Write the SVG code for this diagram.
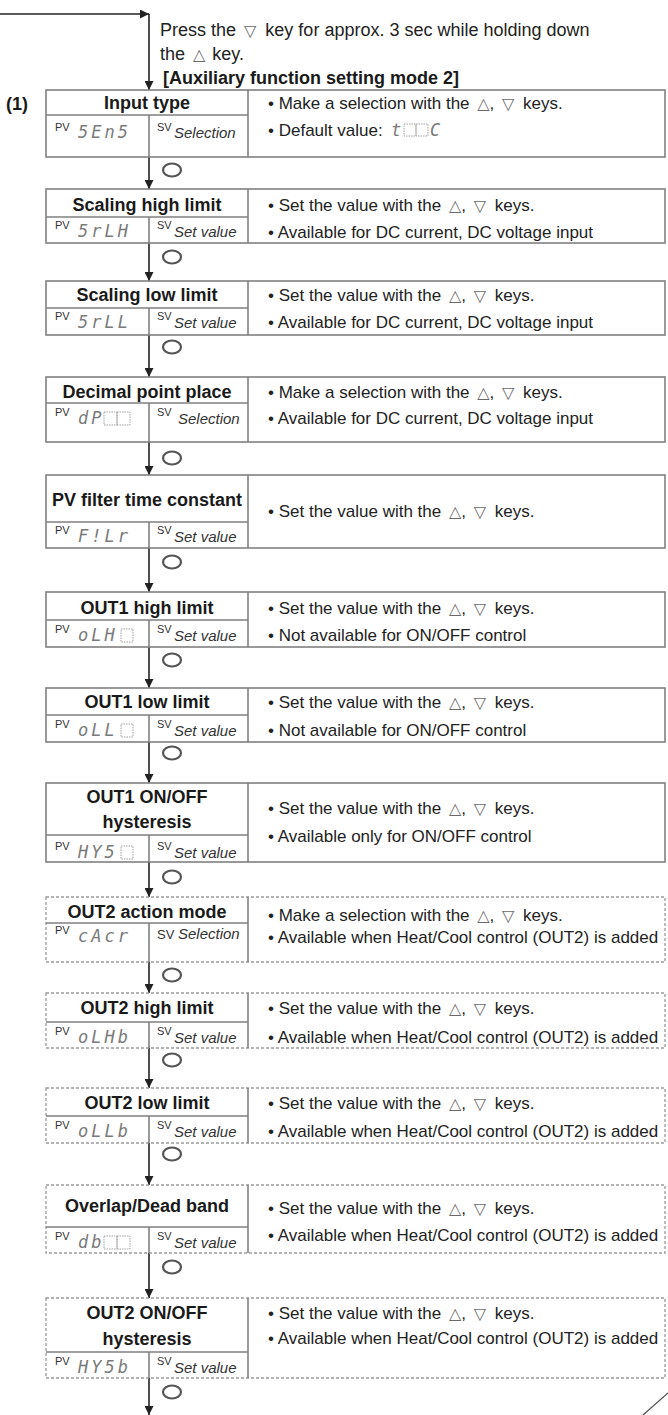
<svg xmlns="http://www.w3.org/2000/svg" width="668" height="1415" viewBox="0 0 668 1415">
<defs>
<marker id="ah" viewBox="0 0 10 10" refX="10" refY="5" markerWidth="9" markerHeight="9" markerUnits="userSpaceOnUse" orient="auto"><path d="M0,0 L10,5 L0,10 z" fill="#222"/></marker>
</defs>
<style>
.box{fill:#fff;stroke:#808080;stroke-width:1.6}
.dbox{fill:#fff;stroke:#9a9a9a;stroke-width:1.3;stroke-dasharray:3 2}
.ln{stroke:#808080;stroke-width:1.6;fill:none}
.hdr{font-family:"Liberation Sans",Arial,sans-serif;font-weight:bold;font-size:18px;fill:#1a1a1a;text-anchor:middle}
.t{font-family:"Liberation Sans",Arial,sans-serif;font-size:17px;fill:#222}
.top{font-family:"Liberation Sans",Arial,sans-serif;font-size:18px;fill:#222}
.b{font-family:"Liberation Sans",Arial,sans-serif;font-size:18px;font-weight:bold;fill:#1a1a1a}
.k{font-family:"DejaVu Sans",sans-serif;font-size:16px;fill:#6a6a6a}
.sup{font-family:"Liberation Sans",Arial,sans-serif;font-size:11px;fill:#333}
.sv{font-family:"Liberation Sans",Arial,sans-serif;font-size:15px;font-style:italic;fill:#333}
.seg{font-family:"DejaVu Sans Mono",monospace;font-size:17px;font-style:oblique;fill:#7a7a7a;letter-spacing:3px}
.blank{fill:none;stroke:#a0a0a0;stroke-width:1;stroke-dasharray:1.5 1}
.conn{stroke:#222;stroke-width:1.6;fill:none}
.cyc{fill:none;stroke:#555;stroke-width:2.2}
</style>
<rect width="668" height="1415" fill="#fff"/>

<g id="intro">
<text class="top" x="160" y="36">Press the <tspan class="k" dx="3">▽</tspan><tspan dx="4"> key for approx. 3 sec while holding down</tspan></text>
<text class="top" x="160" y="60">the <tspan class="k" dx="3">△</tspan><tspan dx="2"> key.</tspan></text>
<text class="b" x="163" y="84">[Auxiliary function setting mode 2]</text>
<text class="b" x="6" y="110">(1)</text>
</g>

<g id="connectors">
<line class="conn" x1="0" y1="14" x2="149" y2="14" marker-end="url(#ah)"/>
<line class="conn" x1="149" y1="14" x2="149" y2="90" marker-end="url(#ah)"/>
<line class="conn" x1="149" y1="157" x2="149" y2="189" marker-end="url(#ah)"/>
<line class="conn" x1="149" y1="243" x2="149" y2="281" marker-end="url(#ah)"/>
<line class="conn" x1="149" y1="335" x2="149" y2="377" marker-end="url(#ah)"/>
<line class="conn" x1="149" y1="442" x2="149" y2="475" marker-end="url(#ah)"/>
<line class="conn" x1="149" y1="548" x2="149" y2="592" marker-end="url(#ah)"/>
<line class="conn" x1="149" y1="647" x2="149" y2="688" marker-end="url(#ah)"/>
<line class="conn" x1="149" y1="742" x2="149" y2="783" marker-end="url(#ah)"/>
<line class="conn" x1="149" y1="862" x2="149" y2="897" marker-end="url(#ah)"/>
<line class="conn" x1="149" y1="962" x2="149" y2="993" marker-end="url(#ah)"/>
<line class="conn" x1="149" y1="1048" x2="149" y2="1088" marker-end="url(#ah)"/>
<line class="conn" x1="149" y1="1143" x2="149" y2="1185" marker-end="url(#ah)"/>
<line class="conn" x1="149" y1="1253" x2="149" y2="1298" marker-end="url(#ah)"/>
<line class="conn" x1="149" y1="1378" x2="149" y2="1415" marker-end="url(#ah)"/>
<ellipse class="cyc" cx="172" cy="170" rx="9" ry="6.5"/>
<ellipse class="cyc" cx="172" cy="257" rx="9" ry="6.5"/>
<ellipse class="cyc" cx="172" cy="347" rx="9" ry="6.5"/>
<ellipse class="cyc" cx="172" cy="458" rx="9" ry="6.5"/>
<ellipse class="cyc" cx="172" cy="562" rx="9" ry="6.5"/>
<ellipse class="cyc" cx="172" cy="660" rx="9" ry="6.5"/>
<ellipse class="cyc" cx="172" cy="753" rx="9" ry="6.5"/>
<ellipse class="cyc" cx="172" cy="877" rx="9" ry="6.5"/>
<ellipse class="cyc" cx="172" cy="975" rx="9" ry="6.5"/>
<ellipse class="cyc" cx="172" cy="1060" rx="9" ry="6.5"/>
<ellipse class="cyc" cx="172" cy="1154" rx="9" ry="6.5"/>
<ellipse class="cyc" cx="172" cy="1267" rx="9" ry="6.5"/>
<ellipse class="cyc" cx="172" cy="1392" rx="9" ry="6.5"/>
</g>

<g id="n1">
<rect class="box" x="46" y="90" width="619" height="67"/>
<path class="ln" d="M46,115 H248 M248,90 V157 M149,115 V157"/>
<text class="hdr" x="147" y="109">Input type</text>
<text class="sup" x="55" y="131">PV</text><text class="seg" x="78" y="138">5En5</text>
<text class="sup" x="157" y="131">SV</text><text class="sv" x="174" y="138">Selection</text>
<text class="t" x="268" y="109">• Make a selection with the <tspan class="k" dx="3">△</tspan>, <tspan class="k" dx="3">▽</tspan><tspan dx="4"> keys.</tspan></text>
<text class="t" x="268" y="136">• Default value:</text>
<text class="seg" x="391" y="136">t</text>
<rect class="blank" x="404" y="124" width="12" height="12"/><rect class="blank" x="416" y="124" width="12" height="12"/>
<text class="seg" x="430" y="136">C</text>
</g>

<g id="n2">
<rect class="box" x="46" y="189" width="619" height="54"/>
<path class="ln" d="M46,217 H248 M248,189 V243 M149,217 V243"/>
<text class="hdr" x="147" y="211">Scaling high limit</text>
<text class="sup" x="55" y="229">PV</text><text class="seg" x="78" y="237">5rLH</text>
<text class="sup" x="157" y="229">SV</text><text class="sv" x="174" y="237">Set value</text>
<text class="t" x="268" y="211">• Set the value with the <tspan class="k" dx="3">△</tspan>, <tspan class="k" dx="3">▽</tspan><tspan dx="4"> keys.</tspan></text>
<text class="t" x="268" y="238">• Available for DC current, DC voltage input</text>
</g>

<g id="n3">
<rect class="box" x="46" y="281" width="619" height="54"/>
<path class="ln" d="M46,308 H248 M248,281 V335 M149,308 V335"/>
<text class="hdr" x="147" y="301">Scaling low limit</text>
<text class="sup" x="55" y="320">PV</text><text class="seg" x="78" y="328">5rLL</text>
<text class="sup" x="157" y="320">SV</text><text class="sv" x="174" y="328">Set value</text>
<text class="t" x="268" y="301">• Set the value with the <tspan class="k" dx="3">△</tspan>, <tspan class="k" dx="3">▽</tspan><tspan dx="4"> keys.</tspan></text>
<text class="t" x="268" y="328">• Available for DC current, DC voltage input</text>
</g>

<g id="n4">
<rect class="box" x="46" y="377" width="619" height="65"/>
<path class="ln" d="M46,403 H248 M248,377 V442 M149,403 V442"/>
<text class="hdr" x="147" y="398">Decimal point place</text>
<text class="sup" x="55" y="416">PV</text><text class="seg" x="78" y="424">dP</text>
<rect class="blank" x="104" y="412" width="13" height="13"/><rect class="blank" x="117" y="412" width="13" height="13"/>
<text class="sup" x="157" y="416">SV</text><text class="sv" x="178" y="424">Selection</text>
<text class="t" x="268" y="398">• Make a selection with the <tspan class="k" dx="3">△</tspan>, <tspan class="k" dx="3">▽</tspan><tspan dx="4"> keys.</tspan></text>
<text class="t" x="268" y="424">• Available for DC current, DC voltage input</text>
</g>

<g id="n5">
<rect class="box" x="46" y="475" width="619" height="73"/>
<path class="ln" d="M46,522 H248 M248,475 V548 M149,522 V548"/>
<text class="hdr" x="147" y="506">PV filter time constant</text>
<text class="sup" x="55" y="534">PV</text><text class="seg" x="78" y="542">F!Lr</text>
<text class="sup" x="157" y="534">SV</text><text class="sv" x="174" y="542">Set value</text>
<text class="t" x="268" y="517">• Set the value with the <tspan class="k" dx="3">△</tspan>, <tspan class="k" dx="3">▽</tspan><tspan dx="4"> keys.</tspan></text>
</g>

<g id="n6">
<rect class="box" x="46" y="592" width="619" height="55"/>
<path class="ln" d="M46,620 H248 M248,592 V647 M149,620 V647"/>
<text class="hdr" x="147" y="614">OUT1 high limit</text>
<text class="sup" x="55" y="633">PV</text><text class="seg" x="78" y="641">oLH</text>
<rect class="blank" x="121" y="629" width="12" height="13"/>
<text class="sup" x="157" y="633">SV</text><text class="sv" x="174" y="641">Set value</text>
<text class="t" x="268" y="614">• Set the value with the <tspan class="k" dx="3">△</tspan>, <tspan class="k" dx="3">▽</tspan><tspan dx="4"> keys.</tspan></text>
<text class="t" x="268" y="641">• Not available for ON/OFF control</text>
</g>

<g id="n7">
<rect class="box" x="46" y="688" width="619" height="54"/>
<path class="ln" d="M46,715 H248 M248,688 V742 M149,715 V742"/>
<text class="hdr" x="147" y="708">OUT1 low limit</text>
<text class="sup" x="55" y="728">PV</text><text class="seg" x="78" y="736">oLL</text>
<rect class="blank" x="121" y="724" width="12" height="13"/>
<text class="sup" x="157" y="728">SV</text><text class="sv" x="174" y="736">Set value</text>
<text class="t" x="268" y="708">• Set the value with the <tspan class="k" dx="3">△</tspan>, <tspan class="k" dx="3">▽</tspan><tspan dx="4"> keys.</tspan></text>
<text class="t" x="268" y="736">• Not available for ON/OFF control</text>
</g>

<g id="n8">
<rect class="box" x="46" y="783" width="619" height="79"/>
<path class="ln" d="M46,835 H248 M248,783 V862 M149,835 V862"/>
<text class="hdr" x="147" y="803">OUT1 ON/OFF</text>
<text class="hdr" x="147" y="828">hysteresis</text>
<text class="sup" x="55" y="850">PV</text><text class="seg" x="78" y="858">HY5</text>
<rect class="blank" x="121" y="846" width="12" height="13"/>
<text class="sup" x="157" y="850">SV</text><text class="sv" x="174" y="858">Set value</text>
<text class="t" x="268" y="814">• Set the value with the <tspan class="k" dx="3">△</tspan>, <tspan class="k" dx="3">▽</tspan><tspan dx="4"> keys.</tspan></text>
<text class="t" x="268" y="842">• Available only for ON/OFF control</text>
</g>

<g id="n9">
<rect class="dbox" x="46" y="897" width="619" height="65"/>
<path class="ln" d="M46,923 H248 M248,897 V962 M149,923 V962"/>
<text class="hdr" x="147" y="918">OUT2 action mode</text>
<text class="sup" x="55" y="934">PV</text><text class="seg" x="78" y="942">cAcr</text>
<text class="sup" x="157" y="939" style="font-size:13px">SV</text><text class="sv" x="178" y="939">Selection</text>
<text class="t" x="268" y="921">• Make a selection with the <tspan class="k" dx="3">△</tspan>, <tspan class="k" dx="3">▽</tspan><tspan dx="4"> keys.</tspan></text>
<text class="t" x="268" y="943">• Available when Heat/Cool control (OUT2) is added</text>
</g>

<g id="n10">
<rect class="dbox" x="46" y="993" width="619" height="55"/>
<path class="ln" d="M46,1022 H248 M248,993 V1048 M149,1022 V1048"/>
<text class="hdr" x="147" y="1014">OUT2 high limit</text>
<text class="sup" x="55" y="1035">PV</text><text class="seg" x="78" y="1043">oLHb</text>
<text class="sup" x="157" y="1035">SV</text><text class="sv" x="174" y="1043">Set value</text>
<text class="t" x="268" y="1014">• Set the value with the <tspan class="k" dx="3">△</tspan>, <tspan class="k" dx="3">▽</tspan><tspan dx="4"> keys.</tspan></text>
<text class="t" x="268" y="1043">• Available when Heat/Cool control (OUT2) is added</text>
</g>

<g id="n11">
<rect class="dbox" x="46" y="1088" width="619" height="55"/>
<path class="ln" d="M46,1116 H248 M248,1088 V1143 M149,1116 V1143"/>
<text class="hdr" x="147" y="1109">OUT2 low limit</text>
<text class="sup" x="55" y="1129">PV</text><text class="seg" x="78" y="1137">oLLb</text>
<text class="sup" x="157" y="1129">SV</text><text class="sv" x="174" y="1137">Set value</text>
<text class="t" x="268" y="1109">• Set the value with the <tspan class="k" dx="3">△</tspan>, <tspan class="k" dx="3">▽</tspan><tspan dx="4"> keys.</tspan></text>
<text class="t" x="268" y="1137">• Available when Heat/Cool control (OUT2) is added</text>
</g>

<g id="n12">
<rect class="dbox" x="46" y="1185" width="619" height="68"/>
<path class="ln" d="M46,1227 H248 M248,1185 V1253 M149,1227 V1253"/>
<text class="hdr" x="147" y="1212">Overlap/Dead band</text>
<text class="sup" x="55" y="1240">PV</text><text class="seg" x="78" y="1248">db</text>
<rect class="blank" x="104" y="1236" width="13" height="13"/><rect class="blank" x="117" y="1236" width="13" height="13"/>
<text class="sup" x="157" y="1240">SV</text><text class="sv" x="174" y="1248">Set value</text>
<text class="t" x="268" y="1214">• Set the value with the <tspan class="k" dx="3">△</tspan>, <tspan class="k" dx="3">▽</tspan><tspan dx="4"> keys.</tspan></text>
<text class="t" x="268" y="1241">• Available when Heat/Cool control (OUT2) is added</text>
</g>

<g id="n13">
<rect class="dbox" x="46" y="1298" width="619" height="80"/>
<path class="ln" d="M46,1352 H248 M248,1298 V1378 M149,1352 V1378"/>
<text class="hdr" x="147" y="1319">OUT2 ON/OFF</text>
<text class="hdr" x="147" y="1345">hysteresis</text>
<text class="sup" x="55" y="1365">PV</text><text class="seg" x="78" y="1373">HY5b</text>
<text class="sup" x="157" y="1365">SV</text><text class="sv" x="174" y="1373">Set value</text>
<text class="t" x="268" y="1319">• Set the value with the <tspan class="k" dx="3">△</tspan>, <tspan class="k" dx="3">▽</tspan><tspan dx="4"> keys.</tspan></text>
<text class="t" x="268" y="1344">• Available when Heat/Cool control (OUT2) is added</text>
</g>

<line x1="668" y1="1393" x2="643" y2="1415" stroke="#555" stroke-width="1.3"/>
</svg>
